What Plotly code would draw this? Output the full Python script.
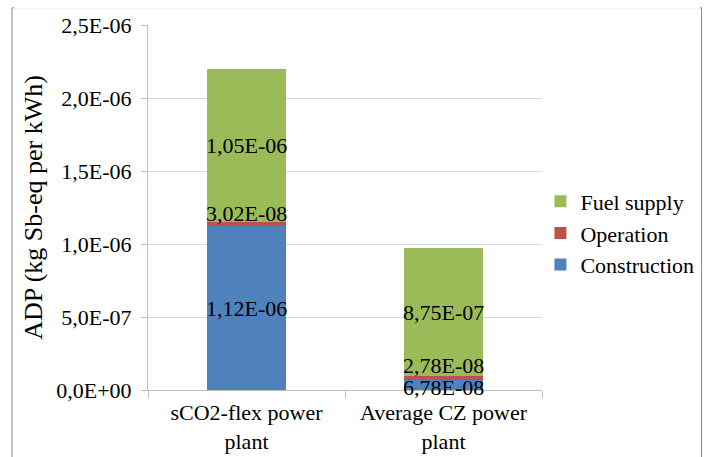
import plotly.graph_objects as go

# data
plants = ["sCO2-flex power<br>plant", "Average CZ power<br>plant"]
construction = [1.12e-06, 6.78e-08]
operation = [3.02e-08, 2.78e-08]
fuel_supply = [1.05e-06, 8.75e-07]
y_ticks = [0, 5e-07, 1e-06, 1.5e-06, 2e-06, 2.5e-06]

SERIF = "Liberation Serif, Times New Roman, serif"

def fmt(v, d):
    # Excel style scientific with decimal comma
    return f"{v:.{d}E}".replace(".", ",")

series = [
    ("Construction", construction, "#4f81bd"),
    ("Operation", operation, "#c0504d"),
    ("Fuel supply", fuel_supply, "#9bbb59"),
]

fig = go.Figure()
for name, vals, col in series:
    fig.add_trace(go.Bar(
        x=plants, y=vals, name=name,
        marker=dict(color=col, line=dict(width=0)),
    ))

# data labels centred in each segment (small ones nudged like Excel does)
nudge = {("Operation", 0): 11, ("Operation", 1): 13, ("Construction", 1): -2}
base = [0, 0]
for name, vals, col in series:
    for i, v in enumerate(vals):
        fig.add_annotation(
            x=plants[i], y=base[i] + v / 2, text=fmt(v, 2),
            showarrow=False, yshift=nudge.get((name, i), 0),
            font=dict(family=SERIF, size=22, color="#000000"),
        )
        base[i] += v

# outer frame of the chart (only the two sides show in the window)
fig.add_shape(type="rect", xref="paper", yref="paper",
              x0=-0.3452, x1=1.405, y0=-0.3, y1=1.047,
              line=dict(color="#8c8c8c", width=1), fillcolor="rgba(0,0,0,0)",
              layer="below")
# hide the top edge of that frame
fig.add_shape(type="line", xref="paper", yref="paper",
              x0=-0.34, x1=1.40, y0=1.047, y1=1.047,
              line=dict(color="white", width=2), layer="below")

fig.update_layout(
    barmode="stack",
    bargap=0.6,
    width=715, height=457,
    margin=dict(l=148, r=173, t=25, b=67),
    plot_bgcolor="white", paper_bgcolor="white",
    font=dict(family=SERIF, size=22, color="#000000"),
    legend=dict(x=0.996, y=0.43, xanchor="left", yanchor="middle",
                traceorder="reversed", font=dict(family=SERIF, size=22),
                bgcolor="rgba(0,0,0,0)",
                itemwidth=30, tracegroupgap=0),
    showlegend=True,
)
fig.update_yaxes(
    range=[0, 2.5e-06], tickvals=y_ticks, ticktext=[fmt(t, 1) for t in y_ticks],
    showgrid=True, gridcolor="#d9d9d9", gridwidth=1,
    showline=True, linecolor="#bfbfbf", ticks="outside", ticklen=6, tickcolor="#bfbfbf",
    ticklabelstandoff=5,
    title=dict(text="ADP (kg Sb-eq per kWh)", standoff=6),
    zeroline=False, automargin=False,
)
fig.update_xaxes(
    showline=True, linecolor="#bfbfbf", ticks="outside", tickson="boundaries",
    ticklen=7, tickcolor="#bfbfbf", ticklabelstandoff=3, automargin=False,
)

# drop the page's default body margin (and scrollbars) so the figure fills the window
fig.write_html(
    "out.html",
    config={"displayModeBar": False},
    post_script=(
        "document.body.style.margin='0';"
        "document.body.style.overflow='hidden';"
        "document.documentElement.style.overflow='hidden';"
    ),
)
